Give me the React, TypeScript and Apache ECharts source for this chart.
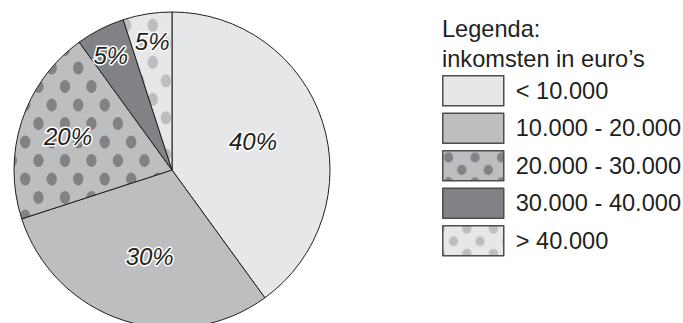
import React, { useEffect, useRef } from "react";
import * as echarts from "echarts";

const categories = ["< 10.000", "10.000 - 20.000", "20.000 - 30.000", "30.000 - 40.000", "> 40.000"];
const shares = [40, 30, 20, 5, 5];
const legendTitle = "Legenda:\ninkomsten in euro\u2019s";

// styles (kept separate from data)
const fills = ["#e6e7e8", "#bcbec0", "#bcbec0", "#808285", "#e6e7e8"];
const dotColors: (string | null)[] = [null, null, "#808285", null, "#bcbec0"];
// dot lattice anchors for the slices and the legend swatches: [x0, y0]
const sliceDotAnchors: (number[] | null)[] = [null, null, [51.7, 105], null, [152.7, 25.3]];
const legendDotAnchors: (number[] | null)[] = [null, null, [456.3, 156.7], null, [461.3, 240.5]];
const labelOffsets = [
  [3, -3],
  [3, 9],
  [-26, -8],
  [-24, -41],
  [-7, -48],
];

function makePattern(
  bg: string,
  dot: string,
  pitchX: number,
  pitchY: number,
  anchor: number[],
  rx: number,
  ry: number
) {
  const w = Math.round(pitchX * 2);
  const h = Math.round(pitchY * 2);
  const px = w / 2;
  const py = h / 2;
  const c = document.createElement("canvas");
  c.width = w;
  c.height = h;
  const ctx = c.getContext("2d")!;
  ctx.fillStyle = bg;
  ctx.fillRect(0, 0, w, h);
  ctx.fillStyle = dot;
  const ax = ((anchor[0] % w) + w) % w;
  const ay = ((anchor[1] % h) + h) % h;
  for (let j = -4; j <= 4; j++) {
    for (let i = -4; i <= 4; i++) {
      const x = ax + i * px + (Math.abs(j) % 2 === 1 ? px / 2 : 0);
      const y = ay + j * py;
      if (x < -rx - 1 || x > w + rx + 1 || y < -ry - 1 || y > h + ry + 1) continue;
      ctx.beginPath();
      ctx.ellipse(x, y, rx, ry, 0, 0, Math.PI * 2);
      ctx.fill();
    }
  }
  return { image: c, repeat: "repeat", imageWidth: w, imageHeight: h };
}

const FONT = "Liberation Sans, Arial, sans-serif";

export default function App() {
  const ref = useRef<HTMLDivElement>(null);
  useEffect(() => {
    if (!ref.current) return;
    const chart = echarts.init(ref.current, undefined, { renderer: "svg" });
    const data = categories.map((name, i) => ({
      name,
      value: shares[i],
      itemStyle: {
        color:
          dotColors[i] && sliceDotAnchors[i]
            ? makePattern(fills[i], dotColors[i] as string, 26.5, 18.5, sliceDotAnchors[i] as number[], 5.2, 6.5)
            : fills[i],
      },
    }));
    const legendData = categories.map((name, i) => ({
      name,
      itemStyle: {
        color:
          dotColors[i] && legendDotAnchors[i]
            ? makePattern(fills[i], dotColors[i] as string, 26.5, 12.5, legendDotAnchors[i] as number[], 4.6, 5.1)
            : fills[i],
      },
    }));
    chart.setOption({
      animation: false,
      backgroundColor: "#ffffff",
      title: {
        text: legendTitle,
        left: 442,
        top: 14,
        padding: 0,
        textStyle: {
          fontFamily: FONT,
          fontSize: 23.6,
          fontWeight: "normal",
          lineHeight: 30,
          color: "#231f20",
        },
      },
      legend: {
        orient: "vertical",
        left: 442,
        top: 75,
        padding: 0,
        itemWidth: 61,
        itemHeight: 30,
        itemGap: 6,
        icon: "rect",
        selectedMode: false,
        data: legendData,
        itemStyle: { borderColor: "#4d4d4f", borderWidth: 1.5 },
        textStyle: {
          fontFamily: FONT,
          fontSize: 23.6,
          lineHeight: 30,
          color: "#231f20",
          padding: [0, 0, 0, 7],
        },
      },
      series: [
        {
          type: "pie",
          center: [172, 170],
          radius: 158,
          startAngle: 90,
          clockwise: true,
          silent: true,
          itemStyle: { borderColor: "#231f20", borderWidth: 1 },
          label: {
            show: true,
            position: "inside",
            formatter: "{c}%",
            fontFamily: FONT,
            fontStyle: "italic",
            fontSize: 24,
            color: "#231f20",
            textBorderColor: "#ffffff",
            textBorderWidth: 3,
          },
          labelLine: { show: false },
          labelLayout: (params: any) => {
            const o = labelOffsets[params.dataIndex] || [0, 0];
            return { dx: o[0], dy: o[1] };
          },
          emphasis: { disabled: true },
          data,
        },
      ],
    });
    return () => chart.dispose();
  }, []);
  return (
    <div
      ref={ref}
      style={{ position: "fixed", left: 0, top: 0, width: 683, height: 323 }}
    />
  );
}
